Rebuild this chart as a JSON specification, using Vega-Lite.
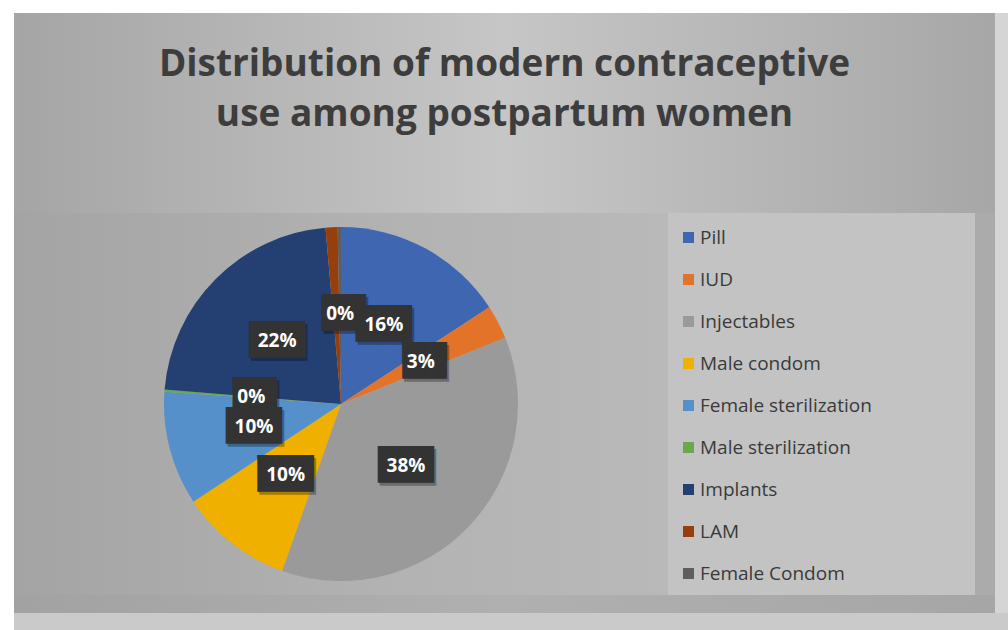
{
  "$schema": "https://vega.github.io/schema/vega-lite/v6.json",
  "background": "#ffffff",
  "padding": {"left": 14, "top": 13, "right": 0, "bottom": 0},
  "autosize": {"type": "pad"},
  "spacing": 0,
  "config": {"view": {"stroke": null}, "concat": {"spacing": 0}},
  "datasets": {
    "methods": [
      {"idx": 1, "method": "Pill", "value": 15.8, "label": "16%"},
      {"idx": 2, "method": "IUD", "value": 3.1, "label": "3%"},
      {"idx": 3, "method": "Injectables", "value": 36.5, "label": "38%"},
      {"idx": 4, "method": "Male condom", "value": 10.3, "label": "10%"},
      {"idx": 5, "method": "Female sterilization", "value": 10.4, "label": "10%"},
      {"idx": 6, "method": "Male sterilization", "value": 0.2, "label": "0%"},
      {"idx": 7, "method": "Implants", "value": 22.3, "label": "22%"},
      {"idx": 8, "method": "LAM", "value": 1.1, "label": ""},
      {"idx": 9, "method": "Female Condom", "value": 0.3, "label": "0%"}
    ]
  },
  "vconcat": [
    {
      "spacing": 0,
      "hconcat": [
        {
          "width": 981,
          "height": 200,
          "view": {"fill": {"gradient": "linear", "x1": 0, "y1": 0, "x2": 1, "y2": 0, "stops": [{"offset": 0, "color": "#a5a5a5"}, {"offset": 0.5, "color": "#c6c6c6"}, {"offset": 1, "color": "#a7a7a7"}]}},
          "data": {"values": [{"title": "Distribution of modern contraceptive\nuse among postpartum women"}]},
          "mark": {"type": "text", "lineBreak": "\n", "font": "Open Sans", "fontWeight": "bold", "fontSize": 37, "lineHeight": 50, "color": "#3d3d3d", "baseline": "middle", "align": "center", "dy": -48},
          "encoding": {"text": {"field": "title", "type": "nominal"}}
        },
        {
          "width": 13,
          "height": 200,
          "view": {"fill": "#d5d5d5"},
          "data": {"values": []},
          "mark": "point"
        }
      ]
    },
    {
      "spacing": 0,
      "resolve": {"scale": {"color": "independent", "theta": "independent"}, "legend": {"color": "independent"}},
      "hconcat": [
        {
          "width": 654,
          "height": 382,
          "view": {"fill": {"gradient": "linear", "x1": 0, "y1": 0, "x2": 1, "y2": 0, "stops": [{"offset": 0, "color": "#a4a4a4"}, {"offset": 0.6, "color": "#b3b3b3"}, {"offset": 1, "color": "#b9b9b9"}]}},
          "data": {"name": "methods"},
          "encoding": {
            "theta": {"field": "value", "type": "quantitative", "stack": true},
            "order": {"field": "idx", "type": "quantitative"}
          },
          "layer": [
            {
              "mark": {"type": "arc", "outerRadius": 177},
              "encoding": {
                "color": {
                  "field": "method",
                  "type": "nominal",
                  "scale": {
                    "domain": ["Pill", "IUD", "Injectables", "Male condom", "Female sterilization", "Male sterilization", "Implants", "LAM", "Female Condom"],
                    "range": ["#3f67b1", "#e37328", "#9a9a9a", "#efb000", "#5690ca", "#6aa84a", "#243f72", "#963f0c", "#5e5e5e"]
                  },
                  "legend": null
                }
              }
            },
            {
              "mark": {"type": "text", "radius": 90, "font": "DejaVu Sans Mono", "fontSize": 31, "color": "#000000", "opacity": 0.3, "dx": 2, "dy": 3, "baseline": "middle", "align": "center"},
              "encoding": {
                "detail": {"field": "method", "type": "nominal"},
                "text": {"condition": [{"test": "datum.label == ''", "value": ""}, {"test": "length(datum.label) > 2", "value": "███"}], "value": "▐█▉"}
              }
            },
            {
              "mark": {"type": "text", "radius": 90, "font": "DejaVu Sans Mono", "fontSize": 31, "color": "#333333", "baseline": "middle", "align": "center"},
              "encoding": {
                "detail": {"field": "method", "type": "nominal"},
                "text": {"condition": [{"test": "datum.label == ''", "value": ""}, {"test": "length(datum.label) > 2", "value": "███"}], "value": "▐█▉"}
              }
            },
            {
              "mark": {"type": "text", "radius": 90, "font": "Open Sans", "fontWeight": "bold", "fontSize": 19, "color": "#ffffff", "baseline": "middle", "align": "center"},
              "encoding": {
                "detail": {"field": "method", "type": "nominal"},
                "text": {"field": "label", "type": "nominal"}
              }
            }
          ]
        },
        {
          "width": 307,
          "height": 382,
          "view": {"fill": "#c3c3c3"},
          "data": {"name": "methods"},
          "mark": {"type": "point", "filled": true, "opacity": 0},
          "encoding": {
            "color": {
              "field": "method",
              "type": "nominal",
              "scale": {
                "domain": ["Pill", "IUD", "Injectables", "Male condom", "Female sterilization", "Male sterilization", "Implants", "LAM", "Female Condom"],
                "range": ["#3f67b1", "#e37328", "#9a9a9a", "#efb000", "#5690ca", "#6aa84a", "#243f72", "#963f0c", "#5e5e5e"]
              },
              "legend": {
                "orient": "none",
                "legendX": 11,
                "legendY": 15,
                "title": null,
                "padding": 0,
                "symbolType": "square",
                "symbolSize": 121,
                "symbolOpacity": 1,
                "symbolStrokeWidth": 0,
                "labelFont": "Open Sans",
                "labelFontSize": 19,
                "labelColor": "#3a3a3a",
                "labelOffset": 2,
                "rowPadding": 22,
                "labelLimit": 300
              }
            }
          }
        },
        {
          "width": 20,
          "height": 382,
          "view": {"fill": "#ababab"},
          "data": {"values": []},
          "mark": "point"
        },
        {
          "width": 13,
          "height": 382,
          "view": {"fill": "#d5d5d5"},
          "data": {"values": []},
          "mark": "point"
        }
      ]
    },
    {
      "spacing": 0,
      "hconcat": [
        {
          "width": 981,
          "height": 18,
          "view": {"fill": {"gradient": "linear", "x1": 0, "y1": 0, "x2": 1, "y2": 0, "stops": [{"offset": 0, "color": "#a2a2a2"}, {"offset": 0.5, "color": "#b0b0b0"}, {"offset": 1, "color": "#a6a6a6"}]}},
          "data": {"values": []},
          "mark": "point"
        },
        {
          "width": 13,
          "height": 18,
          "view": {"fill": "#d5d5d5"},
          "data": {"values": []},
          "mark": "point"
        }
      ]
    },
    {
      "width": 994,
      "height": 17,
      "view": {"fill": "#cacaca"},
      "data": {"values": []},
      "mark": "point"
    }
  ]
}
